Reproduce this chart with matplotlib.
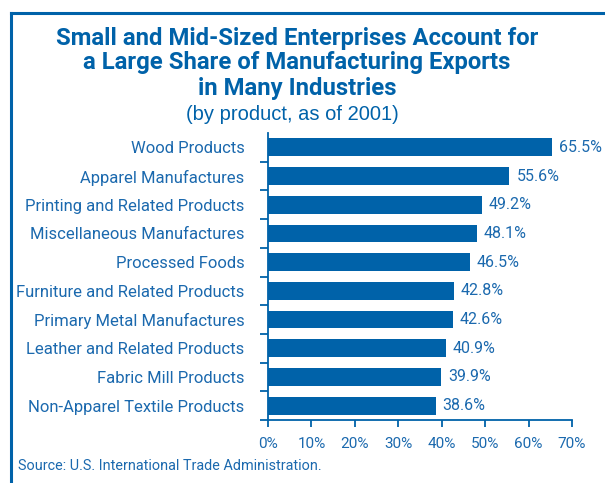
import matplotlib.pyplot as plt
from matplotlib.lines import Line2D

# Share of exports by product
categorias = ["Wood Products", "Apparel Manufactures", "Printing and Related Products",
              "Miscellaneous Manufactures", "Processed Foods", "Furniture and Related Products",
              "Primary Metal Manufactures", "Leather and Related Products",
              "Fabric Mill Products", "Non-Apparel Textile Products"]
valores = [65.5, 55.6, 49.2, 48.1, 46.5, 42.8, 42.6, 40.9, 39.9, 38.6]
ticks_x = [0, 10, 20, 30, 40, 50, 60, 70]

azul = "#0062a9"
texto = "#1b69ae"
narrow = ["Roboto", "DejaVu Sans"]

fig = plt.figure(figsize=(6.05, 4.83), dpi=100)
W, H = 605, 483

# marco azul (solo arriba e izquierda)
fig.add_artist(Line2D([11 / W, 11 / W], [0, 1 - 13 / H], color=azul, lw=2.2, transform=fig.transFigure))
fig.add_artist(Line2D([11 / W, 1], [1 - 13 / H, 1 - 13 / H], color=azul, lw=2.2, transform=fig.transFigure))

# titulo
titulo = ["Small and Mid-Sized Enterprises Account for",
          "a Large Share of Manufacturing Exports",
          "in Many Industries"]
for i, linea in enumerate(titulo):
    fig.text(297 / W, 1 - (38 + i * 25) / H, linea, ha="center", va="center",
             fontsize=17.2, fontweight="bold", color=azul, family=narrow)
fig.text(292 / W, 1 - 115 / H, "(by product, as of 2001)", ha="center", va="center",
         fontsize=14.5, color=azul, family=["Liberation Sans", "DejaVu Sans"])

ax = fig.add_axes([268 / W, 1 - 420 / H, (572 - 268) / W, (420 - 133) / H])
y = list(range(len(categorias)))
ax.barh(y, valores, height=0.62, color=azul)
for yi, v in zip(y, valores):
    ax.text(v + 1.6, yi, f"{v:.1f}%", va="center", ha="left", fontsize=11.5,
            color=texto, family=narrow)

ax.set_xlim(0, 70)
ax.set_ylim(len(categorias) - 0.5, -0.5)
ax.set_xticks(ticks_x)
ax.set_xticklabels([f"{t}%" for t in ticks_x], fontsize=11, color=texto, family=narrow)
ax.set_yticks(y)
ax.set_yticklabels(categorias, fontsize=12, color=texto, family=narrow)
ax.tick_params(axis="y", length=0, pad=17)
ax.set_yticks([i + 0.5 for i in y], minor=True)
ax.tick_params(axis="y", which="minor", length=6, width=1.3, color=azul)
ax.tick_params(axis="x", length=5, width=1.3, color=azul, pad=7)

for s in ["top", "right"]:
    ax.spines[s].set_visible(False)
for s in ["left", "bottom"]:
    ax.spines[s].set_color(azul)
    ax.spines[s].set_linewidth(1.3)

fig.text(18 / W, 1 - 466 / H, "Source: U.S. International Trade Administration.",
         ha="left", va="center", fontsize=10.4, color=texto, family=narrow)

fig.savefig("out.png", dpi=100)
